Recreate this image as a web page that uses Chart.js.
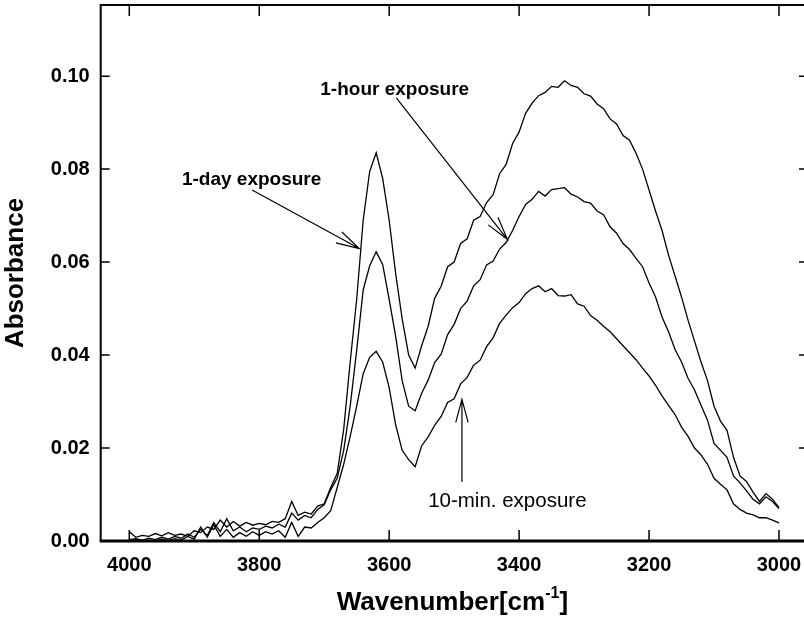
<!DOCTYPE html>
<html lang="en">
<head>
  <meta charset="UTF-8" />
  <title>Absorbance spectra after exposure</title>
  <script src="https://cdn.jsdelivr.net/npm/chart.js"></script>
  <style>
    body { margin: 0; background: #ffffff; }
    .wrap { width: 804px; height: 628px; }
  </style>
</head>
<body>
<div class="wrap"><canvas id="spectrumChart" width="804" height="628"></canvas></div>
<script>
  // x values (wavenumber, cm-1)
  const wavenumbers = [
    4000, 3990, 3980, 3970, 3960, 3950, 3940, 3930, 3920, 3910,
    3900, 3890, 3880, 3870, 3860, 3850, 3840, 3830, 3820, 3810,
    3800, 3790, 3780, 3770, 3760, 3750, 3740, 3730, 3720, 3710,
    3700, 3690, 3680, 3670, 3660, 3650, 3640, 3630, 3620, 3610,
    3600, 3590, 3580, 3570, 3560, 3550, 3540, 3530, 3520, 3510,
    3500, 3490, 3480, 3470, 3460, 3450, 3440, 3430, 3420, 3410,
    3400, 3390, 3380, 3370, 3360, 3350, 3340, 3330, 3320, 3310,
    3300, 3290, 3280, 3270, 3260, 3250, 3240, 3230, 3220, 3210,
    3200, 3190, 3180, 3170, 3160, 3150, 3140, 3130, 3120, 3110,
    3100, 3090, 3080, 3070, 3060, 3050, 3040, 3030, 3020, 3010,
    3000
  ];

  const oneDay = [
    0.0020, 0.0008, 0.0012, 0.0010, 0.0016, 0.0011, 0.0018, 0.0012, 0.0015, 0.0010,
    0.0022, 0.0018, 0.0030, 0.0025, 0.0045, 0.0030, 0.0042, 0.0032, 0.0040, 0.0034,
    0.0038, 0.0035, 0.0042, 0.0040, 0.0048, 0.0085, 0.0055, 0.0062, 0.0058, 0.0075,
    0.0080, 0.0115, 0.0145, 0.0240, 0.0385, 0.0520, 0.0690, 0.0795, 0.0835, 0.0780,
    0.0690, 0.0575, 0.0478, 0.0400, 0.0372, 0.0420, 0.0462, 0.0522, 0.0548, 0.0590,
    0.0600, 0.0640, 0.0650, 0.0690, 0.0698, 0.0728, 0.0745, 0.0790, 0.0810, 0.0855,
    0.0880, 0.0920, 0.0942, 0.0958, 0.0965, 0.0978, 0.0976, 0.0990, 0.0980, 0.0976,
    0.0962, 0.0957, 0.0940, 0.0930, 0.0908, 0.0897, 0.0872, 0.0862, 0.0834, 0.0800,
    0.0755, 0.0710, 0.0668, 0.0615, 0.0570, 0.0525, 0.0475, 0.0430, 0.0385, 0.0345,
    0.0290, 0.0258, 0.0238, 0.0180, 0.0140, 0.0128, 0.0105, 0.0085, 0.0102, 0.0090,
    0.0072
  ];

  const oneHour = [
    0.0003, 0.0005, 0.0002, 0.0006, 0.0003, 0.0008, 0.0004, 0.0010, 0.0006, 0.0015,
    0.0008, 0.0025, 0.0012, 0.0040, 0.0020, 0.0048, 0.0022, 0.0030, 0.0020, 0.0028,
    0.0025, 0.0032, 0.0028, 0.0036, 0.0030, 0.0060, 0.0045, 0.0055, 0.0050, 0.0068,
    0.0078, 0.0110, 0.0135, 0.0195, 0.0290, 0.0410, 0.0540, 0.0592, 0.0622, 0.0595,
    0.0520, 0.0440, 0.0345, 0.0290, 0.0280, 0.0318, 0.0346, 0.0384, 0.0402, 0.0444,
    0.0466, 0.0500, 0.0516, 0.0549, 0.0562, 0.0594, 0.0602, 0.0628, 0.0642, 0.0668,
    0.0698, 0.0724, 0.0735, 0.0752, 0.0742, 0.0756, 0.0758, 0.0760, 0.0746, 0.0740,
    0.0730, 0.0727, 0.0710, 0.0702, 0.0676, 0.0662, 0.0640, 0.0627, 0.0608, 0.0590,
    0.0555, 0.0525, 0.0482, 0.0450, 0.0412, 0.0385, 0.0350, 0.0325, 0.0292, 0.0260,
    0.0210, 0.0195, 0.0180, 0.0140, 0.0125, 0.0108, 0.0090, 0.0080, 0.0095, 0.0085,
    0.0070
  ];

  const tenMin = [
    0.0000, 0.0003, 0.0000, 0.0002, 0.0000, 0.0004, 0.0001, 0.0005, 0.0002, 0.0010,
    0.0004, 0.0030, 0.0008, 0.0035, 0.0010, 0.0025, 0.0008, 0.0018, 0.0010, 0.0020,
    0.0012, 0.0020, 0.0015, 0.0022, 0.0008, 0.0040, 0.0010, 0.0030, 0.0028, 0.0040,
    0.0050, 0.0065, 0.0115, 0.0165, 0.0225, 0.0290, 0.0360, 0.0395, 0.0408, 0.0385,
    0.0330, 0.0250, 0.0195, 0.0175, 0.0160, 0.0205, 0.0224, 0.0249, 0.0268, 0.0298,
    0.0306, 0.0338, 0.0352, 0.0378, 0.0389, 0.0418, 0.0437, 0.0468, 0.0486, 0.0502,
    0.0513, 0.0532, 0.0543, 0.0549, 0.0536, 0.0543, 0.0528, 0.0527, 0.0530, 0.0510,
    0.0505, 0.0485, 0.0475, 0.0462, 0.0450, 0.0435, 0.0420, 0.0405, 0.0390, 0.0372,
    0.0355, 0.0335, 0.0312, 0.0292, 0.0272, 0.0245, 0.0225, 0.0200, 0.0185, 0.0165,
    0.0135, 0.0122, 0.0110, 0.0080, 0.0068, 0.0060, 0.0056, 0.0050, 0.0050, 0.0045,
    0.0039
  ];

  const xTicks = [4000, 3800, 3600, 3400, 3200, 3000];
  const yTicks = [0.00, 0.02, 0.04, 0.06, 0.08, 0.10];

  // annotation labels and arrows, in data coordinates
  const labels = [
    { text: '1-day exposure', x: 3919, y: 0.0776, bold: true },
    { text: '1-hour exposure', x: 3706, y: 0.0970, bold: true },
    { text: '10-min. exposure', x: 3540, y: 0.0085, bold: false }
  ];
  const arrows = [
    { x1: 3811, y1: 0.0755, x2: 3646, y2: 0.0629 },
    { x1: 3589, y1: 0.0953, x2: 3418, y2: 0.0649 },
    { x1: 3488, y1: 0.0127, x2: 3488, y2: 0.0305 }
  ];

  const FONT = "'Liberation Sans', Arial, sans-serif";

  function toPoints(values) {
    return values.map((v, i) => ({ x: wavenumbers[i], y: v }));
  }

  // frame with ticks pointing inward, plus the x title and annotations
  const framePlugin = {
    id: 'framePlugin',
    afterDraw(chart) {
      const { ctx, chartArea: a, scales: { x, y } } = chart;
      ctx.save();
      ctx.strokeStyle = '#000';
      ctx.fillStyle = '#000';

      ctx.lineWidth = 2;
      ctx.beginPath();
      ctx.moveTo(a.left, a.bottom);
      ctx.lineTo(a.left, a.top);
      ctx.lineTo(a.right, a.top);
      ctx.stroke();
      ctx.lineWidth = 3;
      ctx.beginPath();
      ctx.moveTo(a.left - 1, a.bottom);
      ctx.lineTo(a.right, a.bottom);
      ctx.stroke();

      ctx.lineWidth = 1.5;
      ctx.beginPath();
      xTicks.forEach(v => {
        const px = x.getPixelForValue(v);
        ctx.moveTo(px, a.bottom);
        ctx.lineTo(px, a.bottom - 11);
        ctx.moveTo(px, a.top);
        ctx.lineTo(px, a.top + 11);
      });
      yTicks.forEach(v => {
        const py = y.getPixelForValue(v);
        ctx.moveTo(a.left, py);
        ctx.lineTo(a.left + 9, py);
        ctx.moveTo(a.right, py);
        ctx.lineTo(a.right - 5, py);
      });
      ctx.stroke();

      // x axis title with superscript
      const mainFont = 'bold 26px ' + FONT;
      const supFont = 'bold 16px ' + FONT;
      ctx.textBaseline = 'alphabetic';
      ctx.textAlign = 'left';
      ctx.font = mainFont;
      const part1 = 'Wavenumber[cm';
      const part3 = ']';
      const w1 = ctx.measureText(part1).width;
      const w3 = ctx.measureText(part3).width;
      ctx.font = supFont;
      const w2 = ctx.measureText('-1').width;
      const total = w1 + w2 + w3;
      const tx = (a.left + a.right) / 2 - total / 2;
      const baseY = 610;
      ctx.font = mainFont;
      ctx.fillText(part1, tx, baseY);
      ctx.font = supFont;
      ctx.fillText('-1', tx + w1, baseY - 12);
      ctx.font = mainFont;
      ctx.fillText(part3, tx + w1 + w2, baseY);

      // annotations
      ctx.textBaseline = 'middle';
      labels.forEach(l => {
        ctx.font = (l.bold ? 'bold 19px ' : '20.5px ') + FONT;
        ctx.fillText(l.text, x.getPixelForValue(l.x), y.getPixelForValue(l.y));
      });
      ctx.lineWidth = 1.2;
      arrows.forEach(ar => {
        const x1 = x.getPixelForValue(ar.x1), y1 = y.getPixelForValue(ar.y1);
        const x2 = x.getPixelForValue(ar.x2), y2 = y.getPixelForValue(ar.y2);
        const ang = Math.atan2(y1 - y2, x1 - x2);
        const len = 24, spread = 0.26;
        ctx.beginPath();
        ctx.moveTo(x1, y1);
        ctx.lineTo(x2, y2);
        ctx.moveTo(x2 + len * Math.cos(ang - spread), y2 + len * Math.sin(ang - spread));
        ctx.lineTo(x2, y2);
        ctx.lineTo(x2 + len * Math.cos(ang + spread), y2 + len * Math.sin(ang + spread));
        ctx.stroke();
      });
      ctx.restore();
    }
  };

  const lineStyle = {
    borderColor: '#000',
    borderWidth: 1.3,
    pointRadius: 0,
    tension: 0,
    fill: false
  };

  new Chart(document.getElementById('spectrumChart').getContext('2d'), {
    type: 'line',
    data: {
      datasets: [
        Object.assign({ label: '1-day exposure', data: toPoints(oneDay) }, lineStyle),
        Object.assign({ label: '1-hour exposure', data: toPoints(oneHour) }, lineStyle),
        Object.assign({ label: '10-min. exposure', data: toPoints(tenMin) }, lineStyle)
      ]
    },
    options: {
      responsive: false,
      animation: false,
      devicePixelRatio: 1,
      layout: { padding: { top: 5, right: 0, left: 0, bottom: 0 } },
      plugins: { legend: { display: false }, tooltip: { enabled: false } },
      scales: {
        x: {
          type: 'linear',
          reverse: true,
          min: 2961.5,
          max: 4044,
          afterBuildTicks: scale => { scale.ticks = xTicks.map(v => ({ value: v })); },
          afterFit: scale => { scale.height = 87; scale.paddingLeft = 0; scale.paddingRight = 0; },
          grid: { display: false, drawTicks: false },
          border: { display: false },
          ticks: {
            color: '#000',
            padding: 12,
            autoSkip: false,
            maxRotation: 0,
            font: { family: FONT, size: 20, weight: 'bold' },
            callback: v => String(v)
          }
        },
        y: {
          type: 'linear',
          min: 0,
          max: 0.1153,
          afterBuildTicks: scale => { scale.ticks = yTicks.map(v => ({ value: v })); },
          afterFit: scale => { scale.width = 100.7; scale.paddingTop = 0; scale.paddingBottom = 0; },
          grid: { display: false, drawTicks: false },
          border: { display: false },
          title: {
            display: true,
            text: 'Absorbance',
            color: '#000',
            padding: { top: 0, bottom: 0 },
            font: { family: FONT, size: 26, weight: 'bold' }
          },
          ticks: {
            color: '#000',
            padding: 11,
            font: { family: FONT, size: 20, weight: 'bold' },
            callback: v => v.toFixed(2)
          }
        }
      }
    },
    plugins: [framePlugin]
  });
</script>
</body>
</html>
